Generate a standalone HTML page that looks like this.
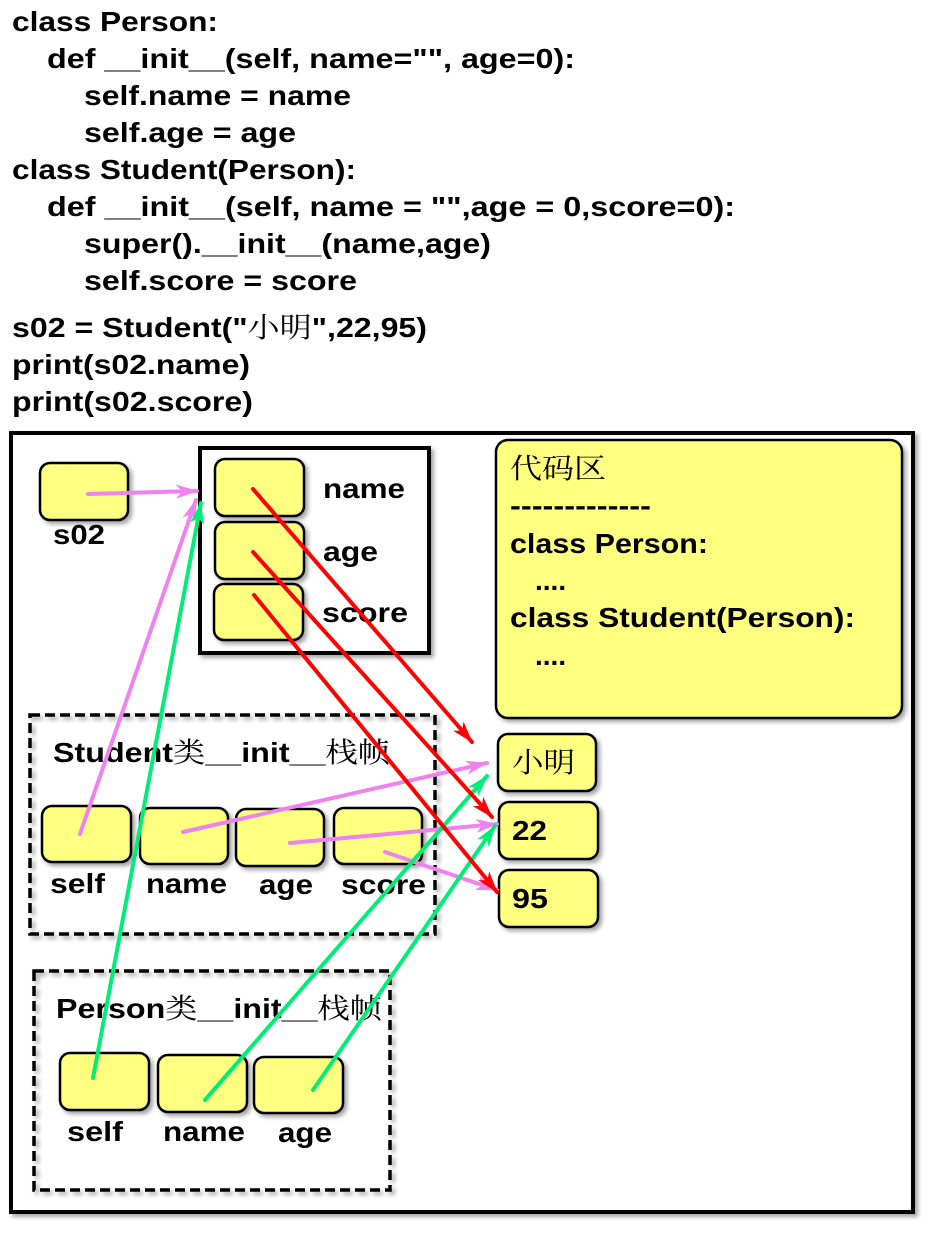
<!DOCTYPE html>
<html><head><meta charset="utf-8"><style>
body{margin:0;background:#fff;}
svg{display:block;}
text{font-family:"Liberation Sans","Noto Sans CJK SC",sans-serif;font-weight:bold;font-size:28px;fill:#000;}
.cj{font-family:"Noto Serif CJK SC","Noto Sans CJK SC",sans-serif;font-weight:normal;}
.b{fill:#ffff80;stroke:#000;stroke-width:2.5;}
</style></head><body>
<svg width="944" height="1242" viewBox="0 0 944 1242" xmlns="http://www.w3.org/2000/svg">
<defs>
<filter id="sh" x="-5%" y="-5%" width="115%" height="115%"><feDropShadow dx="3" dy="3" stdDeviation="2" flood-color="#000" flood-opacity="0.35"/></filter>
<marker id="mp" markerWidth="22" markerHeight="14" refX="21" refY="7" orient="auto" markerUnits="userSpaceOnUse" viewBox="0 0 22 14"><path d="M0,0 L22,7 L0,14 L6,7Z" fill="#ee82ee"/></marker>
<marker id="mg" markerWidth="22" markerHeight="14" refX="21" refY="7" orient="auto" markerUnits="userSpaceOnUse" viewBox="0 0 22 14"><path d="M0,0 L22,7 L0,14 L6,7Z" fill="#00ee77"/></marker>
<marker id="mr" markerWidth="22" markerHeight="14" refX="21" refY="7" orient="auto" markerUnits="userSpaceOnUse" viewBox="0 0 22 14"><path d="M0,0 L22,7 L0,14 L6,7Z" fill="#ff0000"/></marker>
</defs>
<g lengthAdjust="spacingAndGlyphs">
<text x="12" y="31" textLength="206" lengthAdjust="spacingAndGlyphs">class Person:</text>
<text x="47" y="68" textLength="528" lengthAdjust="spacingAndGlyphs">def __init__(self, name="", age=0):</text>
<text x="84" y="105" textLength="267" lengthAdjust="spacingAndGlyphs">self.name = name</text>
<text x="84" y="142" textLength="212" lengthAdjust="spacingAndGlyphs">self.age = age</text>
<text x="12" y="179" textLength="344" lengthAdjust="spacingAndGlyphs">class Student(Person):</text>
<text x="47" y="216" textLength="688" lengthAdjust="spacingAndGlyphs">def __init__(self, name = "",age = 0,score=0):</text>
<text x="84" y="253" textLength="407" lengthAdjust="spacingAndGlyphs">super().__init__(name,age)</text>
<text x="84" y="290" textLength="273" lengthAdjust="spacingAndGlyphs">self.score = score</text>
<text x="12" y="337" textLength="415" lengthAdjust="spacingAndGlyphs">s02 = Student("<tspan class="cj">小明</tspan>",22,95)</text>
<text x="12" y="374" textLength="238" lengthAdjust="spacingAndGlyphs">print(s02.name)</text>
<text x="12" y="411" textLength="241" lengthAdjust="spacingAndGlyphs">print(s02.score)</text>
</g>
<rect x="11" y="433" width="902" height="779" fill="#fff" stroke="#000" stroke-width="4" filter="url(#sh)"/>
<rect x="200" y="448" width="229" height="205" fill="#fff" stroke="#000" stroke-width="4" filter="url(#sh)"/>
<rect x="496" y="440" width="406" height="278" rx="12" class="b" filter="url(#sh)"/>
<text x="510" y="478" class="cj" textLength="96" lengthAdjust="spacingAndGlyphs">代码区</text>
<text x="510" y="515" textLength="141" lengthAdjust="spacingAndGlyphs">-------------</text>
<text x="510" y="553" textLength="198" lengthAdjust="spacingAndGlyphs">class Person:</text>
<text x="535" y="590">....</text>
<text x="510" y="627" textLength="345" lengthAdjust="spacingAndGlyphs">class Student(Person):</text>
<text x="535" y="665">....</text>
<rect x="30" y="715" width="405" height="219" fill="none" stroke="#000" stroke-width="3.5" stroke-dasharray="10,5" filter="url(#sh)"/>
<rect x="34" y="971" width="356" height="219" fill="none" stroke="#000" stroke-width="3.5" stroke-dasharray="10,5" filter="url(#sh)"/>
<g filter="url(#sh)">
<rect x="40" y="463" width="88" height="57" rx="10" class="b"/>
<rect x="215" y="459" width="89" height="57" rx="10" class="b"/>
<rect x="215" y="522" width="89" height="57" rx="10" class="b"/>
<rect x="214" y="584" width="89" height="56" rx="10" class="b"/>
<rect x="498" y="734" width="98" height="57" rx="10" class="b"/>
<rect x="499" y="802" width="99" height="57" rx="10" class="b"/>
<rect x="499" y="870" width="99" height="57" rx="10" class="b"/>
<rect x="42" y="806" width="89" height="56" rx="10" class="b"/>
<rect x="140" y="808" width="88" height="56" rx="10" class="b"/>
<rect x="236" y="809" width="88" height="57" rx="10" class="b"/>
<rect x="334" y="808" width="88" height="56" rx="10" class="b"/>
<rect x="60" y="1053" width="89" height="57" rx="10" class="b"/>
<rect x="158" y="1055" width="89" height="57" rx="10" class="b"/>
<rect x="254" y="1057" width="89" height="56" rx="10" class="b"/>
</g>
<text x="53" y="544" textLength="52" lengthAdjust="spacingAndGlyphs">s02</text>
<text x="323" y="498" textLength="82" lengthAdjust="spacingAndGlyphs">name</text>
<text x="323" y="561" textLength="55" lengthAdjust="spacingAndGlyphs">age</text>
<text x="322" y="622" textLength="86" lengthAdjust="spacingAndGlyphs">score</text>
<text x="512" y="772" class="cj" textLength="63" lengthAdjust="spacingAndGlyphs">小明</text>
<text x="512" y="840" textLength="35" lengthAdjust="spacingAndGlyphs">22</text>
<text x="512" y="908" textLength="36" lengthAdjust="spacingAndGlyphs">95</text>
<text x="53" y="762" textLength="337" lengthAdjust="spacingAndGlyphs">Student<tspan class="cj">类</tspan>__init__<tspan class="cj">栈帧</tspan></text>
<text x="50" y="893" textLength="55" lengthAdjust="spacingAndGlyphs">self</text>
<text x="146" y="893" textLength="81" lengthAdjust="spacingAndGlyphs">name</text>
<text x="259" y="894" textLength="54" lengthAdjust="spacingAndGlyphs">age</text>
<text x="341" y="894" textLength="85" lengthAdjust="spacingAndGlyphs">score</text>
<text x="56" y="1018" textLength="326" lengthAdjust="spacingAndGlyphs">Person<tspan class="cj">类</tspan>__init__<tspan class="cj">栈帧</tspan></text>
<text x="67" y="1141" textLength="56" lengthAdjust="spacingAndGlyphs">self</text>
<text x="163" y="1141" textLength="82" lengthAdjust="spacingAndGlyphs">name</text>
<text x="278" y="1142" textLength="54" lengthAdjust="spacingAndGlyphs">age</text>
<g stroke-width="4" fill="none" stroke-linecap="round">
<line x1="88" y1="494" x2="197" y2="491" stroke="#ee82ee" marker-end="url(#mp)"/>
<line x1="80" y1="834" x2="196" y2="500" stroke="#ee82ee" marker-end="url(#mp)"/>
<line x1="183" y1="832" x2="487" y2="763" stroke="#ee82ee" marker-end="url(#mp)"/>
<line x1="290" y1="843" x2="497" y2="824" stroke="#ee82ee" marker-end="url(#mp)"/>
<line x1="385" y1="852" x2="497" y2="890" stroke="#ee82ee" marker-end="url(#mp)"/>
<line x1="93" y1="1078" x2="201" y2="503" stroke="#00ee77" marker-end="url(#mg)"/>
<line x1="205" y1="1100" x2="487" y2="776" stroke="#00ee77" marker-end="url(#mg)"/>
<line x1="313" y1="1090" x2="495" y2="826" stroke="#00ee77" marker-end="url(#mg)"/>
<line x1="253" y1="489" x2="472" y2="742" stroke="#ff0000" marker-end="url(#mr)"/>
<line x1="253" y1="552" x2="492" y2="817" stroke="#ff0000" marker-end="url(#mr)"/>
<line x1="254" y1="595" x2="497" y2="892" stroke="#ff0000" marker-end="url(#mr)"/>
</g>
</svg>
</body></html>
